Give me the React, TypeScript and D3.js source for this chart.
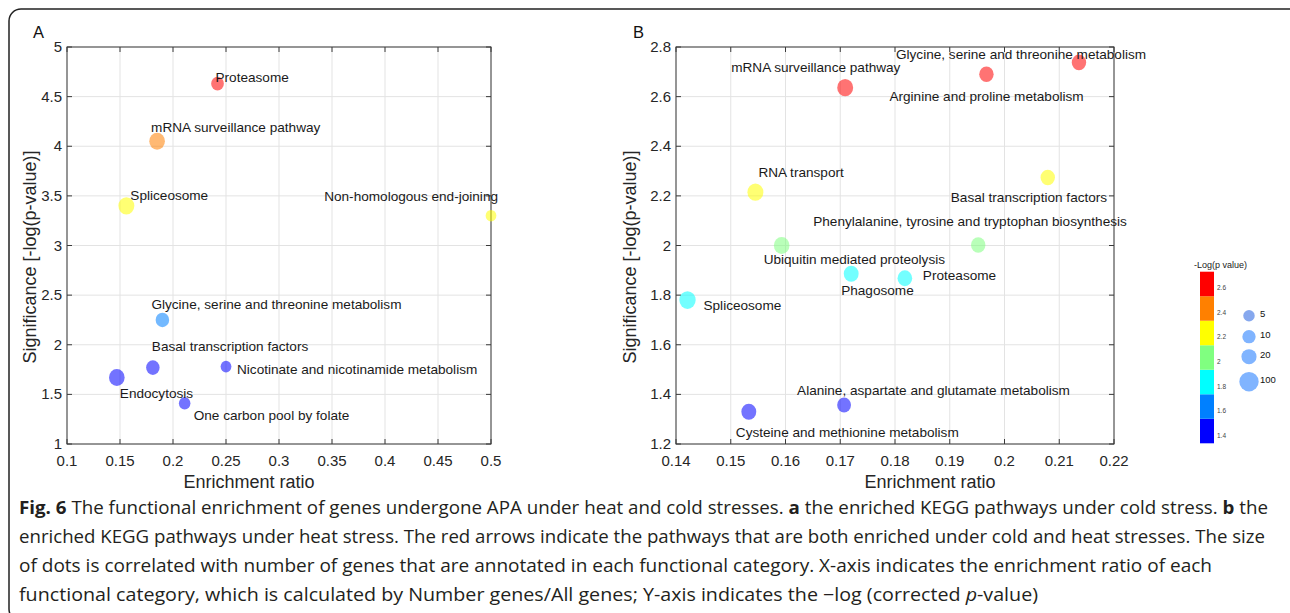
import React from "react";
import * as d3 from "d3";

// ---- panel A: cold stress ----
const pathwaysA = [
  "Proteasome",
  "mRNA surveillance pathway",
  "Spliceosome",
  "Non-homologous end-joining",
  "Glycine, serine and threonine metabolism",
  "Basal transcription factors",
  "Nicotinate and nicotinamide metabolism",
  "Endocytosis",
  "One carbon pool by folate",
];
const ratioA = [0.242, 0.185, 0.156, 0.5, 0.19, 0.181, 0.25, 0.147, 0.211];
const sigA = [4.63, 4.05, 3.4, 3.3, 2.25, 1.77, 1.78, 1.67, 1.41];
const genesA = [6, 17, 19, 3, 8, 8, 3, 17, 4];
const xTicksA = [0.1, 0.15, 0.2, 0.25, 0.3, 0.35, 0.4, 0.45, 0.5];
const yTicksA = [1, 1.5, 2, 2.5, 3, 3.5, 4, 4.5, 5];

// ---- panel B: heat stress ----
const pathwaysB = [
  "mRNA surveillance pathway",
  "Arginine and proline metabolism",
  "Glycine, serine and threonine metabolism",
  "RNA transport",
  "Basal transcription factors",
  "Ubiquitin mediated proteolysis",
  "Phenylalanine, tyrosine and tryptophan biosynthesis",
  "Phagosome",
  "Proteasome",
  "Spliceosome",
  "Cysteine and methionine metabolism",
  "Alanine, aspartate and glutamate metabolism",
];
const ratioB = [0.1709, 0.1967, 0.2136, 0.1545, 0.2079, 0.1593, 0.1952, 0.172, 0.1818, 0.1421, 0.1533, 0.1707];
const sigB = [2.636, 2.69, 2.738, 2.215, 2.274, 2.0, 2.002, 1.886, 1.868, 1.78, 1.33, 1.357];
const genesB = [19, 11, 11, 19, 11, 17, 11, 13, 12, 22, 13, 9];
const xTicksB = [0.14, 0.15, 0.16, 0.17, 0.18, 0.19, 0.2, 0.21, 0.22];
const yTicksB = [1.2, 1.4, 1.6, 1.8, 2, 2.2, 2.4, 2.6, 2.8];

// colour bar + size legend
const colorbarTicks = [1.4, 1.6, 1.8, 2, 2.2, 2.4, 2.6];
const legendGenes = [5, 10, 20, 100];

const caption = [
  "The functional enrichment of genes undergone APA under heat and cold stresses.",
  "enriched KEGG pathways under heat stress. The red arrows indicate the pathways that are both enriched under cold and heat stresses. The size",
  "of dots is correlated with number of genes that are annotated in each functional category. X-axis indicates the enrichment ratio of each",
  "functional category, which is calculated by Number genes/All genes; Y-axis indicates the \u2212log (corrected ",
];

// label nudges (px from dot centre): [dx, dy, anchor]
const nudgeA: [number, number, string][] = [
  [-2, -2, "start"], [-6, -9, "start"], [4, -6, "start"], [7, -15, "end"],
  [-11, -11, "start"], [-1, -17, "start"], [11, 7, "start"], [3, 20, "start"], [9, 17, "start"],
];
const nudgeB: [number, number, string][] = [
  [-114, -16, "start"], [-97, 27, "start"], [-183, -3, "start"], [3, -15, "start"],
  [-97, 24, "start"], [-18, 18, "start"], [-165, -19, "start"], [-10, 21, "start"],
  [18, 2, "start"], [16, 10, "start"], [-13, 25, "start"], [-47, -10, "start"],
];

const jet = ["#0000ff", "#0080ff", "#00ffff", "#80ff80", "#ffff00", "#ff8000", "#ff0000"];
const FONT = "'Liberation Sans', Arial, Helvetica, sans-serif";
const AX = "#3a3a3a";

const sizeScale = d3.scaleLog().domain([5, 100]).range([6.1, 10.3]);

const bandScale = (lo: number, hi: number) => {
  const step = (hi - lo) / jet.length;
  return d3.scaleThreshold<number, string>()
    .domain(d3.range(1, jet.length).map((i) => lo + step * i))
    .range(jet);
};
const colorA = bandScale(1.4, 4.7);
const colorB = bandScale(1.335, 2.735);

type Box = { left: number; right: number; top: number; bottom: number };

const fmt = (v: number) => String(+v.toFixed(3));

const Panel = ({ names, ratio, sig, genes, xTicks, yTicks, color, nudge, box, letter, letterX, yTitleX, xTitleX }: any) => {
  const b: Box = box;
  const x = d3.scaleLinear().domain(d3.extent(xTicks) as [number, number]).range([b.left, b.right]);
  const y = d3.scaleLinear().domain(d3.extent(yTicks) as [number, number]).range([b.bottom, b.top]);
  const tk = 5;
  return (
    <g fontFamily={FONT}>
      {/* grid */}
      {xTicks.map((t: number) => (
        <line key={"gx" + t} x1={x(t)} x2={x(t)} y1={b.top} y2={b.bottom} stroke="#e3e3e3" strokeWidth={1} />
      ))}
      {yTicks.map((t: number) => (
        <line key={"gy" + t} x1={b.left} x2={b.right} y1={y(t)} y2={y(t)} stroke="#e3e3e3" strokeWidth={1} />
      ))}
      {/* ticks on all four sides */}
      {xTicks.map((t: number) => (
        <g key={"tx" + t}>
          <line x1={x(t)} x2={x(t)} y1={b.bottom} y2={b.bottom - tk} stroke={AX} />
          <line x1={x(t)} x2={x(t)} y1={b.top} y2={b.top + tk} stroke={AX} />
          <text x={x(t)} y={b.bottom + 22} textAnchor="middle" fontSize={15} fill="#262626">{fmt(t)}</text>
        </g>
      ))}
      {yTicks.map((t: number) => (
        <g key={"ty" + t}>
          <line x1={b.left} x2={b.left + tk} y1={y(t)} y2={y(t)} stroke={AX} />
          <line x1={b.right} x2={b.right - tk} y1={y(t)} y2={y(t)} stroke={AX} />
          <text x={b.left - 5} y={y(t) + 5} textAnchor="end" fontSize={15} fill="#262626">{fmt(t)}</text>
        </g>
      ))}
      <rect x={b.left} y={b.top} width={b.right - b.left} height={b.bottom - b.top} fill="none" stroke={AX} strokeWidth={1} />
      {/* dots */}
      {names.map((n: string, i: number) => {
        const r = sizeScale(genes[i]);
        return (
          <ellipse key={"d" + n} cx={x(ratio[i])} cy={y(sig[i])} rx={r} ry={r * 1.08}
            fill={color(sig[i])} fillOpacity={0.55} />
        );
      })}
      {/* labels */}
      {names.map((n: string, i: number) => (
        <text key={"l" + n} x={x(ratio[i]) + nudge[i][0]} y={y(sig[i]) + nudge[i][1]}
          textAnchor={nudge[i][2]} fontSize={13.6} fill="#1a1a1a">{n}</text>
      ))}
      <text x={letterX} y={37.5} fontSize={16.5} fill="#111">{letter}</text>
      <text x={xTitleX} y={488} textAnchor="middle" fontSize={18} fill="#262626">Enrichment ratio</text>
      <text transform={`translate(${yTitleX},257) rotate(-90)`} textAnchor="middle" fontSize={18} fill="#262626">
        Significance [-log(p-value)]
      </text>
    </g>
  );
};

const Legend = () => {
  const cb = d3.scaleLinear().domain([1.335, 2.735]).range([443.3, 271.7]);
  const step = 0.2;
  const legendY = [315.7, 336.7, 356.7, 381.7];
  return (
    <g fontFamily={FONT}>
      <text x={1194} y={267.5} fontSize={9} fill="#222">-Log(p value)</text>
      {jet.map((c, i) => (
        <rect key={c} x={1200} width={14} y={cb(1.335 + step * (i + 1))}
          height={cb(1.335 + step * i) - cb(1.335 + step * (i + 1))} fill={c} />
      ))}
      {colorbarTicks.map((t) => (
        <text key={t} x={1217} y={cb(t) + 2.2} fontSize={6.5} fill="#444">{fmt(t)}</text>
      ))}
      {legendGenes.map((g, i) => (
        <g key={g}>
          <circle cx={1249} cy={legendY[i]} r={sizeScale(g) * 0.94} fill={i === 0 ? "#86a8ee" : "#80b4ff"} />
          <text x={1260} y={legendY[i] + 1.5} fontSize={9.5} fill="#111">{g}</text>
        </g>
      ))}
    </g>
  );
};

const Caption = () => {
  const cf = "'Open Sans', 'Noto Sans', sans-serif";
  const base = [514, 543, 572, 601];
  const ends = [1268, 1265, 1212, 1038];
  return (
    <g fontFamily={cf} fontSize={18} fill="#231f20">
      <text x={19} y={base[0]} textLength={ends[0] - 19} lengthAdjust="spacingAndGlyphs">
        <tspan fontWeight="bold">Fig. 6</tspan> {caption[0]} <tspan fontWeight="bold">a</tspan> the enriched KEGG pathways under cold stress. <tspan fontWeight="bold">b</tspan> the
      </text>
      <text x={19} y={base[1]} textLength={ends[1] - 19} lengthAdjust="spacingAndGlyphs">{caption[1]}</text>
      <text x={19} y={base[2]} textLength={ends[2] - 19} lengthAdjust="spacingAndGlyphs">{caption[2]}</text>
      <text x={19} y={base[3]} textLength={ends[3] - 19} lengthAdjust="spacingAndGlyphs">
        {caption[3]}<tspan fontStyle="italic">p</tspan>-value)
      </text>
    </g>
  );
};

export default function App() {
  return (
    <svg width={1290} height={613} style={{ position: "absolute", left: 0, top: 0, background: "#fff" }}>
      <rect x={9} y={9} width={1300} height={612} rx={12} fill="#fff" stroke="#222" strokeWidth={1.5} />
      <Panel names={pathwaysA} ratio={ratioA} sig={sigA} genes={genesA} xTicks={xTicksA} yTicks={yTicksA}
        color={colorA} nudge={nudgeA} box={{ left: 67, right: 491, top: 47, bottom: 444 }}
        letter="A" letterX={33} yTitleX={36} xTitleX={249} />
      <Panel names={pathwaysB} ratio={ratioB} sig={sigB} genes={genesB} xTicks={xTicksB} yTicks={yTicksB}
        color={colorB} nudge={nudgeB} box={{ left: 676, right: 1114, top: 47, bottom: 444 }}
        letter="B" letterX={633} yTitleX={636} xTitleX={930} />
      <Legend />
      <Caption />
    </svg>
  );
}
